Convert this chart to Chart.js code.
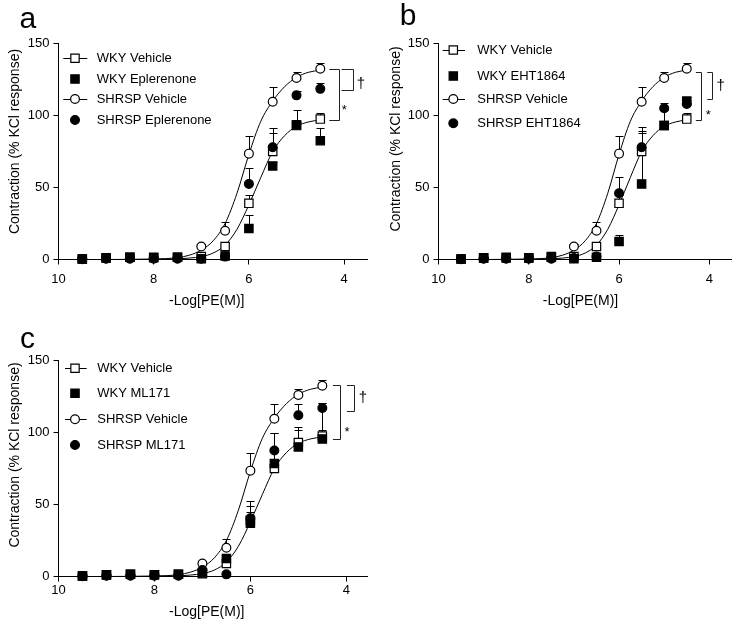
<!DOCTYPE html>
<html><head><meta charset="utf-8">
<script src="https://cdn.jsdelivr.net/npm/chart.js@4.4.1/dist/chart.umd.min.js"></script>
<style>
html,body{margin:0;padding:0;background:#fff;}
body{width:739px;height:626px;position:relative;overflow:hidden;}
canvas{position:absolute;}
</style></head><body>
<canvas id="pa" width="375" height="310" style="left:0px;top:0px"></canvas>
<canvas id="pb" width="369" height="310" style="left:370px;top:0px"></canvas>
<canvas id="pc" width="375" height="316" style="left:0px;top:310px"></canvas>
<script>
// ---- data ----
const doses = [9.5, 9, 8.5, 8, 7.5, 7, 6.5, 6, 5.5, 5, 4.5];

const wkyVehicle      = [0.3, 1.2, 1.5, 1.2, 1.5, 2, 9, 39, 75, 93, 97.5];
const wkyVehicleSem   = [0.5, 0.5, 0.5, 0.5, 0.5, 1, 2, 6, 13, 11, 4];
const shrspVehicle    = [0.3, 0.8, 1, 1, 1, 9, 20, 73.5, 109.5, 126, 132.5];
const shrspVehicleSem = [0.5, 0.5, 0.5, 0.5, 0.5, 1.5, 6, 12.5, 10, 4, 4];

const wkyEplerenone      = [0.3, 1, 1.5, 1.5, 1.5, 0.5, 2.5, 21.5, 65, 93.5, 82.5];
const wkyEplerenoneSem   = [0.5, 0.5, 0.5, 0.5, 0.5, 0.5, 1, 9.5, 3, 2, 8.5];
const shrspEplerenone    = [0.2, 0.5, 0.5, 0.5, 0.5, 0.5, 2, 52.5, 78, 114, 118.5];
const shrspEplerenoneSem = [0.5, 0.5, 0.5, 0.5, 0.5, 0.5, 0.5, 11, 13.5, 3, 4];

const wkyEht1864      = [0.3, 1, 1, 1, 2, 0.5, 1.5, 12.5, 52.5, 93, 110];
const wkyEht1864Sem   = [0.5, 0.5, 0.5, 0.5, 0.5, 0.5, 0.5, 4.5, 36.5, 2, 3];
const shrspEht1864    = [0.2, 0.5, 0.5, 0.5, 0.5, 1, 2, 46, 78, 105, 108];
const shrspEht1864Sem = [0.5, 0.5, 0.5, 0.5, 0.5, 0.5, 0.5, 11, 14, 4, 3];

const wkyMl171      = [0.3, 1, 1.5, 1.2, 1.5, 2.5, 12.5, 37, 78.5, 90, 95.5];
const wkyMl171Sem   = [0.5, 0.5, 0.5, 0.5, 0.5, 0.5, 2, 12, 21, 12, 25];
const shrspMl171    = [0.2, 0.5, 0.5, 0.5, 0.5, 4.5, 1.5, 40.5, 87.5, 112, 117];
const shrspMl171Sem = [0.5, 0.5, 0.5, 0.5, 0.5, 1, 1, 12, 12, 8, 3.5];

// fitted curves at these doses
const fitDoses        = [9.5, 9, 8.5, 8, 7.75, 7.5, 7.25, 7, 6.75, 6.5, 6.25, 6, 5.75, 5.5, 5.25, 5, 4.75, 4.5];
const wkyVehicleFit   = [0, 0, 0, 0.1, 0.2, 0.4, 1, 2, 4.5, 10, 21, 38, 57, 75, 86, 92.5, 95.5, 97];
const shrspVehicleFit = [0, 0, 0.1, 0.3, 0.6, 1.3, 3, 6.5, 13, 25, 46, 73, 96, 110, 120, 126.5, 130, 131.5];

const xTicks = [10, 8, 6, 4];
const yTicks = [0, 50, 100, 150];

const labelsA = ['WKY Vehicle', 'WKY Eplerenone', 'SHRSP Vehicle', 'SHRSP Eplerenone'];
const labelsB = ['WKY Vehicle', 'WKY EHT1864', 'SHRSP Vehicle', 'SHRSP EHT1864'];
const labelsC = ['WKY Vehicle', 'WKY ML171', 'SHRSP Vehicle', 'SHRSP ML171'];

// significance brackets: [top, dagger bottom, star bottom]
const bracketA = [132, 118, 97.2];
const bracketB = [130.2, 111.8, 97.2];
const bracketC = [132.7, 115, 95.8];

const yTitle = 'Contraction (% KCl response)';
const xTitle = '-Log[PE(M)]';

// ---- drawing ----
const FONT = '"Liberation Sans", Arial, Helvetica, sans-serif';
const SQ_R = 5.9, CI_R = 4.4;

function pts(xs, ys) { return xs.map((x, i) => ({x: x, y: ys[i]})); }

function markerSet(label, vals, sem, shape, filled, order) {
  return {
    label: label, data: pts(doses, vals), sem: sem,
    showLine: false,
    pointStyle: shape === 'square' ? 'rect' : 'circle',
    pointRadius: shape === 'square' ? SQ_R : CI_R,
    pointBackgroundColor: filled ? '#000' : '#fff',
    pointBorderColor: '#000', pointBorderWidth: 1.2,
    order: order, clip: false
  };
}
function curveSet(vals) {
  return {
    data: pts(fitDoses, vals), showLine: true, pointRadius: 0,
    borderColor: '#000', borderWidth: 1, cubicInterpolationMode: 'monotone',
    order: 10, clip: false
  };
}

function drawMarker(ctx, shape, filled, x, y) {
  ctx.beginPath();
  if (shape === 'square') { const h = SQ_R * Math.SQRT1_2; ctx.rect(x - h, y - h, 2 * h, 2 * h); }
  else ctx.arc(x, y, CI_R, 0, Math.PI * 2);
  ctx.fillStyle = filled ? '#000' : '#fff';
  ctx.fill();
  ctx.lineWidth = 1.2; ctx.strokeStyle = '#000'; ctx.stroke();
}

const errorBars = {
  id: 'errorBars',
  beforeDatasetsDraw(chart) {
    const ctx = chart.ctx, xs = chart.scales.x, ys = chart.scales.y;
    ctx.save(); ctx.strokeStyle = '#000'; ctx.lineWidth = 1;
    chart.data.datasets.forEach(ds => {
      if (!ds.sem) return;
      ds.data.forEach((p, i) => {
        const e = ds.sem[i]; if (!e) return;
        const px = Math.round(xs.getPixelForValue(p.x)) + 0.5;
        const y0 = ys.getPixelForValue(p.y), y1 = Math.round(ys.getPixelForValue(p.y + e)) + 0.5;
        ctx.beginPath(); ctx.moveTo(px, y0); ctx.lineTo(px, y1);
        ctx.moveTo(px - 4, y1); ctx.lineTo(px + 4, y1); ctx.stroke();
      });
    });
    ctx.restore();
  }
};

const decor = {
  id: 'decor',
  afterDraw(chart, args, o) {
    const ctx = chart.ctx, xs = chart.scales.x, ys = chart.scales.y;
    ctx.save();
    ctx.fillStyle = '#000'; ctx.strokeStyle = '#000';
    // panel letter
    ctx.font = '30px ' + FONT; ctx.textAlign = 'left'; ctx.textBaseline = 'alphabetic';
    ctx.fillText(o.letter, o.letterX, o.letterY);
    // axis titles
    ctx.font = '14px ' + FONT; ctx.textAlign = 'center'; ctx.textBaseline = 'middle';
    ctx.fillText(xTitle, o.xTitleX, o.xTitleY);
    ctx.save(); ctx.translate(o.yTitleX, o.yTitleY); ctx.rotate(-Math.PI / 2);
    ctx.fillText(yTitle, 0, 0); ctx.restore();
    // legend
    const shapes = [['square', false, true], ['square', true, false], ['circle', false, true], ['circle', true, false]];
    ctx.font = '13px ' + FONT; ctx.textAlign = 'left'; ctx.textBaseline = 'middle';
    o.labels.forEach((lab, i) => {
      const y = o.rows[i], s = shapes[i];
      if (s[2]) {
        ctx.beginPath(); ctx.lineWidth = 1;
        ctx.moveTo(o.lineX0, Math.round(y) + 0.5); ctx.lineTo(o.lineX1, Math.round(y) + 0.5); ctx.stroke();
      }
      drawMarker(ctx, s[0], s[1], o.symX, y);
      ctx.fillStyle = '#000';
      ctx.fillText(lab, o.textX, y);
    });
    // brackets
    const bx = xs.getPixelForValue(doses[doses.length - 1]);
    const yt = Math.round(ys.getPixelForValue(o.bracket[0])) + 0.5;
    const yd = Math.round(ys.getPixelForValue(o.bracket[1])) + 0.5;
    const yst = Math.round(ys.getPixelForValue(o.bracket[2])) + 0.5;
    ctx.lineWidth = 1; ctx.strokeStyle = '#222';
    const s0 = bx + o.star[0], s1 = Math.round(bx + o.star[1]) + 0.5;
    ctx.beginPath(); ctx.moveTo(s0, yt); ctx.lineTo(s1, yt); ctx.lineTo(s1, yst); ctx.lineTo(s0, yst); ctx.stroke();
    const d0 = bx + o.dagger[0], d1 = Math.round(bx + o.dagger[1]) + 0.5;
    ctx.beginPath(); ctx.moveTo(d0, yt); ctx.lineTo(d1, yt); ctx.lineTo(d1, yd); ctx.lineTo(d0, yd); ctx.stroke();
    ctx.textAlign = 'center'; ctx.textBaseline = 'alphabetic';
    ctx.font = '15px ' + FONT;
    ctx.fillText('\u2020', bx + o.daggerText[0], o.daggerText[1]);
    ctx.font = '13px ' + FONT;
    ctx.fillText('*', bx + o.starText[0], o.starText[1]);
    ctx.restore();
  }
};

function makePanel(id, drugW, drugWSem, drugS, drugSSem, o) {
  const tickFont = {family: FONT, size: 13};
  new Chart(document.getElementById(id), {
    type: 'scatter',
    data: {
      datasets: [
        curveSet(wkyVehicleFit),
        curveSet(shrspVehicleFit),
        markerSet(o.labels[0], wkyVehicle, wkyVehicleSem, 'square', false, 4),
        markerSet(o.labels[1], drugW, drugWSem, 'square', true, 3),
        markerSet(o.labels[2], shrspVehicle, shrspVehicleSem, 'circle', false, 2),
        markerSet(o.labels[3], drugS, drugSSem, 'circle', true, 1)
      ]
    },
    options: {
      responsive: false, animation: false, events: [],
      layout: {padding: {left: 0, top: o.top, right: o.right, bottom: 0}},
      plugins: {legend: {display: false}, tooltip: {enabled: false}, decor: o},
      scales: {
        x: {
          type: 'linear', reverse: true, min: o.xmin, max: 10,
          afterBuildTicks: s => { s.ticks = xTicks.map(v => ({value: v})); },
          afterFit: s => { s.height = o.xh; },
          grid: {display: true, drawOnChartArea: false, drawTicks: true, tickLength: 5, color: '#000', lineWidth: 1},
          border: {display: true, color: '#000', width: 1},
          ticks: {color: '#000', font: tickFont, padding: o.xpad, maxRotation: 0}
        },
        y: {
          type: 'linear', min: 0, max: 150,
          afterBuildTicks: s => { s.ticks = yTicks.map(v => ({value: v})); },
          afterFit: s => { s.width = o.yw; },
          grid: {display: true, drawOnChartArea: false, drawTicks: true, tickLength: 5, color: '#000', lineWidth: 1},
          border: {display: true, color: '#000', width: 1},
          ticks: {color: '#000', font: tickFont, padding: 4}
        }
      }
    },
    plugins: [errorBars, decor]
  });
}

makePanel('pa', wkyEplerenone, wkyEplerenoneSem, shrspEplerenone, shrspEplerenoneSem, {
  labels: labelsA, top: 43.5, right: 3.5, yw: 58.5, xh: 50.5, xmin: 3.5, xpad: 7,
  letter: 'a', letterX: 19.5, letterY: 28.3,
  xTitleX: 206.7, xTitleY: 301, yTitleX: 15, yTitleY: 141.5,
  symX: 75, lineX0: 63.3, lineX1: 87.3, textX: 96.7, rows: [58.3, 79, 99, 120],
  bracket: bracketA, star: [9, 19], dagger: [21.3, 32.3], daggerText: [40.6, 88], starText: [24, 113.5]
});
makePanel('pb', wkyEht1864, wkyEht1864Sem, shrspEht1864, shrspEht1864Sem, {
  labels: labelsB, top: 43.5, right: 2.5, yw: 68.5, xh: 50.5, xmin: 3.5, xpad: 7,
  letter: 'b', letterX: 29.7, letterY: 25,
  xTitleX: 210.5, xTitleY: 301, yTitleX: 26, yTitleY: 139,
  symX: 83.3, lineX0: 72.7, lineX1: 95, textX: 107.3, rows: [50, 76, 99, 123.3],
  bracket: bracketB, star: [9.1, 13.8], dagger: [20.5, 25.5], daggerText: [33.8, 89.5], starText: [21.5, 119]
});
makePanel('pc', wkyMl171, wkyMl171Sem, shrspMl171, shrspMl171Sem, {
  labels: labelsC, top: 50.5, right: 6.5, yw: 58.5, xh: 49.5, xmin: 3.55, xpad: 1,
  letter: 'c', letterX: 20, letterY: 38.3,
  xTitleX: 206.7, xTitleY: 301.7, yTitleX: 15.3, yTitleY: 145,
  symX: 75, lineX0: 65, lineX1: 86.7, textX: 97.3, rows: [58.3, 83.3, 109.3, 135],
  bracket: bracketC, star: [10.6, 17.3], dagger: [24.6, 31.3], daggerText: [40.6, 91.7], starText: [24.6, 125.8]
});
</script>
</body></html>
